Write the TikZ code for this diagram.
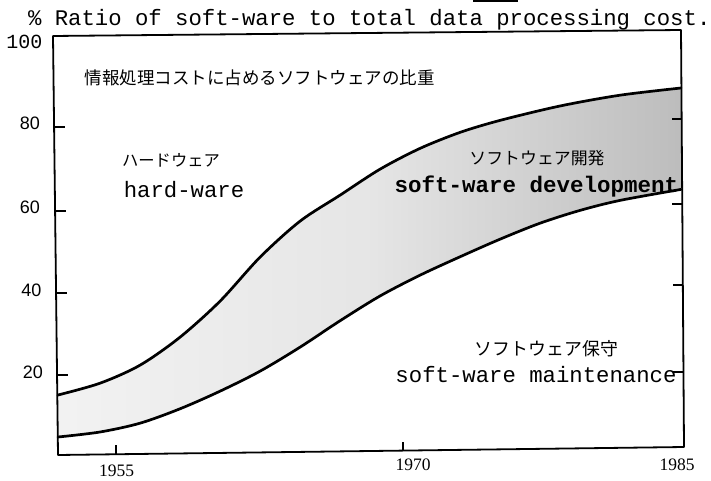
\documentclass[tikz,border=0pt]{standalone}
\usepackage{fontspec}
\setmainfont{Liberation Serif}
\newfontfamily\monof{Liberation Mono}
\newfontfamily\sansf{Liberation Sans}
\newfontfamily\jpf{Noto Sans CJK JP}
\begin{document}
\begin{tikzpicture}[x=1pt,y=-1pt,
  lbl/.style={inner sep=0pt, outer sep=0pt},
  frameline/.style={line width=1.8pt, line join=round},
  tickline/.style={line width=1.8pt},
  curveline/.style={line width=2.7pt, line cap=round, line join=round},
  ylab/.style={lbl, font=\sansf\fontsize{18}{20}\selectfont},
  xlab/.style={lbl, font=\fontsize{17.5}{19}\selectfont},
  monolab/.style={lbl, font=\monof\fontsize{22.3}{26}\selectfont},
  monobold/.style={lbl, font=\monof\bfseries\fontsize{22.5}{26}\selectfont},
  jplab/.style={lbl, font=\jpf\fontsize{#1}{#1}\selectfont}]
\useasboundingbox (0,0) rectangle (711,481);

% scan artefact at top
\draw[line width=2.5pt] (473,1) -- (518,1);

% shaded band
\shade[left color=black!5, right color=black!26, middle color=black!10]
  plot[smooth] coordinates {(58,395) (100,383.2) (140,365.2) (180,337.2) (220,301.2) (260,257.2) (300,221.2) (340,195.2) (380,169.2) (420,148.4) (460,132.4) (500,120.4) (560,106) (620,95.2) (681,88)}
  -- plot[smooth] coordinates {(681,189.4) (620,200.4) (580,210.4) (540,223.2) (500,239.2) (460,256.8) (420,275.2) (380,296) (340,320.8) (300,347.2) (260,371.2) (220,391.2) (180,408.8) (140,423.2) (100,432) (58,437)}
  -- cycle;

% frame
\coordinate (TL) at (53,36);
\coordinate (TR) at (681,30);
\coordinate (BR) at (684,447);
\coordinate (BL) at (58,455);
\draw[frameline] (TL) -- (TR) -- (BR) -- (BL) -- cycle;

% left ticks
\draw[tickline] (54.1,127) -- +(11,0);
\draw[tickline] (55.1,211) -- +(11,0);
\draw[tickline] (56.1,293) -- +(11,0);
\draw[tickline] (57.0,375) -- +(11,0);
% right ticks
\draw[tickline] (681.6,119) -- +(-10,0);
\draw[tickline] (682.3,204) -- +(-10,0);
\draw[tickline] (682.8,285) -- +(-10,0);
\draw[tickline] (683.4,372) -- +(-10,0);
% bottom ticks
\draw[tickline] (116,454.3) -- +(0,-9);
\draw[tickline] (403,450.6) -- +(0,-9);

% curves
\draw[curveline] plot[smooth] coordinates {(58,395) (100,383.2) (140,365.2) (180,337.2) (220,301.2) (260,257.2) (300,221.2) (340,195.2) (380,169.2) (420,148.4) (460,132.4) (500,120.4) (560,106) (620,95.2) (681,88)};
\draw[curveline] plot[smooth] coordinates {(58,437) (100,432) (140,423.2) (180,408.8) (220,391.2) (260,371.2) (300,347.2) (340,320.8) (380,296) (420,275.2) (460,256.8) (500,239.2) (540,223.2) (580,210.4) (620,200.4) (681,189.4)};

% title
\node[monolab, anchor=base west] (title) at (28,26) {\% Ratio of soft-ware to total data processing cost.};

% axis labels
\node[lbl, font=\monof\fontsize{20}{22}\selectfont] (y100) at (24.5,41.5) {100};
\node[ylab] (y80) at (30,123.5) {80};
\node[ylab] (y60) at (30,207.5) {60};
\node[ylab] (y40) at (31.5,290) {40};
\node[ylab] (y20) at (33,372.5) {20};
\node[xlab] (x1955) at (116.5,471) {1955};
\node[xlab] (x1970) at (413,465) {1970};
\node[xlab] (x1985) at (677,465) {1985};

% region labels
\node[jplab=17.5] (jtitle) at (259.5,78) {情報処理コストに占めるソフトウェアの比重};
\node[jplab=16.3] (jhw) at (171,160) {ハードウェア};
\node[monolab, anchor=base] (hw) at (184,197) {hard-ware};
\node[jplab=16.9] (jdev) at (537,158) {ソフトウェア開発};
\node[monobold, anchor=base] (dev) at (536.5,192.5) {soft-ware development};
\node[jplab=17.9] (jmnt) at (546.5,349) {ソフトウェア保守};
\node[monolab, anchor=base] (mnt) at (536,382) {soft-ware maintenance};
\end{tikzpicture}
\end{document}
